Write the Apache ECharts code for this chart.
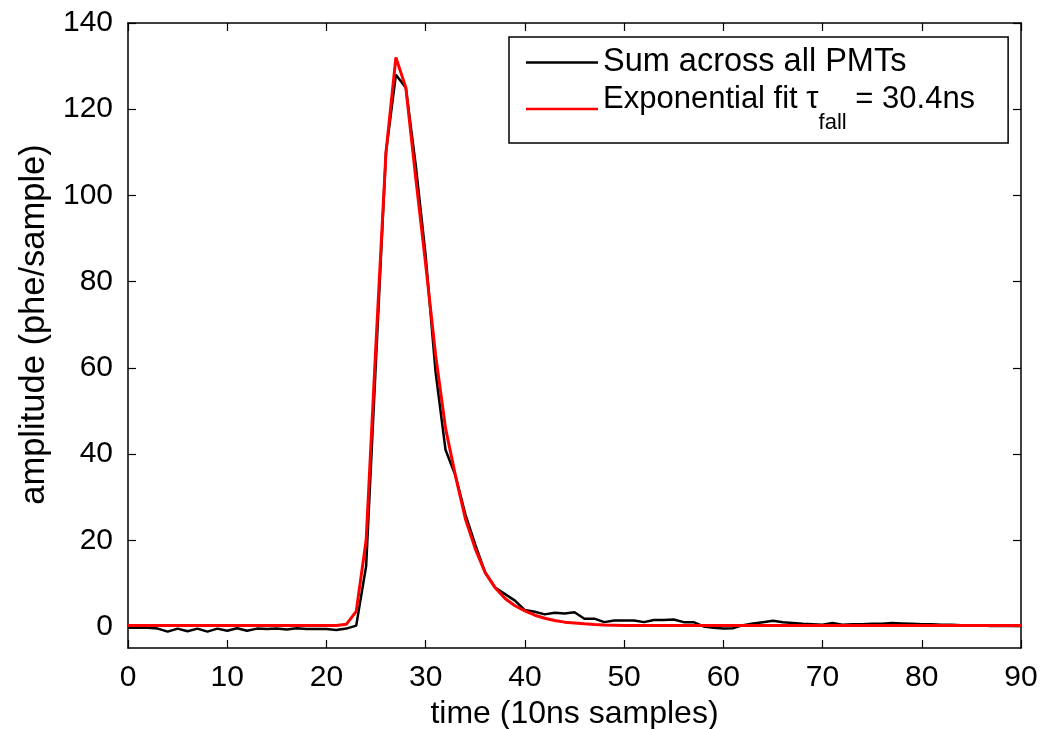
<!DOCTYPE html>
<html>
<head>
<meta charset="utf-8">
<script src="https://cdn.jsdelivr.net/npm/echarts@6/dist/echarts.min.js"></script>
<style>
  html, body { margin: 0; padding: 0; background: #fff; }
  #chart { width: 1044px; height: 729px; }
</style>
</head>
<body>
<div id="chart"></div>
<script>
// Sample index 0..90 (10 ns samples)
const sumAllPMTs = [
  -0.3, -0.3, -0.3, -0.5, -1.2, -0.5, -1.1, -0.5, -1.2, -0.5,
  -1.0, -0.4, -1.0, -0.5, -0.6, -0.5, -0.7, -0.4, -0.6, -0.6,
  -0.6, -0.8, -0.5, 0.2, 14, 62, 110, 128, 125, 107,
  86, 59, 41, 35, 26, 19, 12.5, 9, 7.5, 6,
  3.8, 3.4, 2.8, 3.2, 3.0, 3.3, 1.8, 1.8, 1.0, 1.4,
  1.4, 1.4, 1.0, 1.5, 1.5, 1.6, 1.0, 1.0, 0.0, -0.3,
  -0.5, -0.4, 0.3, 0.7, 1.0, 1.3, 1.0, 0.8, 0.6, 0.5,
  0.4, 0.8, 0.4, 0.5, 0.5, 0.6, 0.6, 0.8, 0.7, 0.6,
  0.5, 0.5, 0.4, 0.4, 0.3, 0.2, 0.2, 0.1, 0.1, 0.1,
  0.1
];
const expFit = [
  0.2, 0.2, 0.2, 0.2, 0.2, 0.2, 0.2, 0.2, 0.2, 0.2,
  0.2, 0.2, 0.2, 0.2, 0.2, 0.2, 0.2, 0.2, 0.2, 0.2,
  0.2, 0.2, 0.5, 3.5, 20, 66, 110, 132, 125, 104,
  84, 63, 46, 35, 25, 18, 12.5, 9, 6.5, 4.8,
  3.6, 2.6, 1.9, 1.4, 1.0, 0.8, 0.6, 0.45, 0.35, 0.3,
  0.2, 0.2, 0.2, 0.2, 0.2, 0.2, 0.2, 0.2, 0.2, 0.2,
  0.2, 0.2, 0.2, 0.2, 0.2, 0.2, 0.2, 0.2, 0.2, 0.2,
  0.2, 0.2, 0.2, 0.2, 0.2, 0.2, 0.2, 0.2, 0.2, 0.2,
  0.2, 0.2, 0.2, 0.2, 0.2, 0.2, 0.2, 0.2, 0.2, 0.2,
  0.2
];
const yTicks = [0, 20, 40, 60, 80, 100, 120, 140];
const seriesNames = ['Sum across all PMTs', 'Exponential fit'];

const FONT = '"Liberation Sans", Arial, Helvetica, sans-serif';
const chart = echarts.init(document.getElementById('chart'), null, { renderer: 'canvas' });

const axisLineStyle = { color: '#000', width: 1.5 };
const xBase = {
  type: 'value', min: 0, max: 90, interval: 10,
  splitLine: { show: false },
  axisLine: { show: true, onZero: false, lineStyle: axisLineStyle },
  axisTick: { show: true, inside: true, length: 8, lineStyle: { color: '#000', width: 1.2 } }
};
const yBase = {
  type: 'value', min: -5, max: 140,
  splitLine: { show: false },
  axisLine: { show: true, onZero: false, lineStyle: axisLineStyle },
  axisTick: { show: true, inside: true, length: 8, customValues: yTicks, lineStyle: { color: '#000', width: 1.2 } }
};

chart.setOption({
  animation: false,
  backgroundColor: '#fff',
  grid: { left: 128, right: 23, top: 23, bottom: 81, containLabel: false, outerBoundsMode: 'none' },
  xAxis: [
    Object.assign({}, xBase, {
      position: 'bottom',
      name: 'time (10ns samples)', nameLocation: 'middle', nameGap: 49,
      nameTextStyle: { fontFamily: FONT, fontSize: 32, color: '#000' },
      axisLabel: { show: true, margin: 15, fontFamily: FONT, fontSize: 30, color: '#000' }
    }),
    Object.assign({}, xBase, { position: 'top', axisLabel: { show: false } })
  ],
  yAxis: [
    Object.assign({}, yBase, {
      position: 'left',
      name: 'amplitude (phe/sample)', nameLocation: 'middle', nameGap: 70, nameRotate: 90,
      nameTextStyle: { fontFamily: FONT, fontSize: 34.5, color: '#000', padding: [0, 0, 0, 22] },
      axisLabel: { show: true, margin: 15, customValues: yTicks, fontFamily: FONT, fontSize: 30, color: '#000' }
    }),
    Object.assign({}, yBase, { position: 'right', axisLabel: { show: false } })
  ],
  legend: {
    left: 509, top: 37, orient: 'vertical',
    data: seriesNames,
    icon: 'rect',
    itemWidth: 72, itemHeight: 2.5, itemGap: 5,
    padding: [9, 33, 9, 17],
    borderColor: '#000', borderWidth: 1.5, backgroundColor: '#fff',
    selectedMode: false,
    textStyle: {
      fontFamily: FONT, fontSize: 31, color: '#000',
      rich: {
        n: { fontFamily: FONT, fontSize: 32.5, color: '#000', lineHeight: 34 },
        s: { fontFamily: FONT, fontSize: 22, color: '#000', verticalAlign: 'bottom', padding: [28, 0, 0, 0] },
        f: { fontFamily: FONT, fontSize: 31, color: '#000', lineHeight: 38, verticalAlign: 'top' }
      }
    },
    formatter: function (name) {
      if (name === 'Exponential fit') {
        return '{f|Exponential fit \u03c4}{s|fall}{f| = 30.4ns}';
      }
      return '{n|' + name + '}';
    }
  },
  series: [
    {
      name: seriesNames[0], type: 'line', xAxisIndex: 0, yAxisIndex: 0,
      data: sumAllPMTs.map((v, i) => [i, v]),
      symbol: 'none', smooth: false,
      lineStyle: { color: '#000', width: 2.5 }, itemStyle: { color: '#000' }
    },
    {
      name: seriesNames[1], type: 'line', xAxisIndex: 0, yAxisIndex: 0,
      data: expFit.map((v, i) => [i, v]),
      symbol: 'none', smooth: false,
      lineStyle: { color: '#ff0000', width: 3 }, itemStyle: { color: '#ff0000' }
    }
  ]
});
</script>
</body>
</html>
